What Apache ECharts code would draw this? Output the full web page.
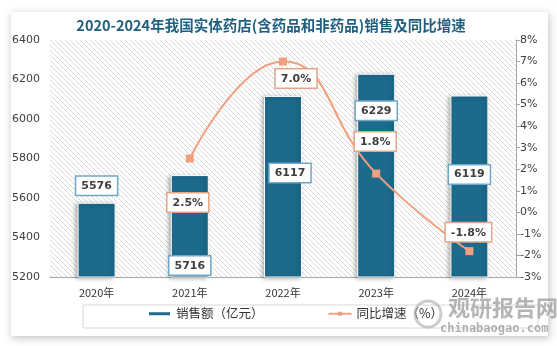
<!DOCTYPE html>
<html><head><meta charset="utf-8">
<script src="https://cdn.jsdelivr.net/npm/echarts@6/dist/echarts.min.js"></script>
<style>html,body{margin:0;padding:0;background:#fff;}#c{width:557px;height:346px;}</style>
</head><body><div id="c"></div>
<script>
const categories = ['2020年','2021年','2022年','2023年','2024年'];
const sales = [5576, 5716, 6117, 6229, 6119];
const growth = [null, 2.5, 7.0, 1.8, -1.8];
const growthLabels = ['', '2.5%', '7.0%', '1.8%', '-1.8%'];

const pc = document.createElement('canvas');
pc.width = 5; pc.height = 5;
const px = pc.getContext('2d');
px.fillStyle = '#ffffff'; px.fillRect(0,0,5,5);
px.strokeStyle = '#d9d9d9'; px.lineWidth = 1;
px.beginPath(); px.moveTo(-1,-1); px.lineTo(6,6); px.stroke();
px.beginPath(); px.moveTo(-1,4); px.lineTo(1,6); px.stroke();
px.beginPath(); px.moveTo(4,-1); px.lineTo(6,1); px.stroke();

const barLabelCfg = [
  {position:'top', distance:8},
  {position:'insideBottom', distance:3},
  {position:'insideTop', distance:68, offset:[7,0]},
  {position:'insideTop', distance:28},
  {position:'inside', offset:[0,-12]}
];
const lineLabelCfg = [
  null,
  {position:'bottom', distance:31, offset:[-2,0]},
  {position:'bottom', distance:4, offset:[13,0]},
  {position:'top', distance:19, offset:[-1,0]},
  {position:'top', distance:6, offset:[-1,0]}
];

const chart = echarts.init(document.getElementById('c'));
const boxLabel = (border) => ({
  show:true, color:'#404040', fontSize:11, fontWeight:'bold',
  fontFamily:'DejaVu Sans', backgroundColor:'#fff', borderColor:border,
  borderWidth:1.5, padding:[4,5,3,5]
});
chart.setOption({
  animation:false,
  backgroundColor:'#fff',
  graphic:[
    {type:'rect', shape:{x:11,y:12,width:537,height:324}, style:{fill:'#fff', shadowBlur:8, shadowColor:'rgba(0,0,0,0.25)', shadowOffsetX:1, shadowOffsetY:2}, z:-10},
    {type:'rect', shape:{x:83,y:305,width:455,height:23}, style:{fill:'none', stroke:'#d9d9d9', lineWidth:1}, z:-5},
    {type:'text', left:448, top:297, style:{text:'观研报告网', fill:'rgba(150,150,150,0.7)', font:'bold 22px "Noto Sans CJK SC"'}, z:50},
    {type:'text', left:440, top:323, style:{text:'chinabaogao.com', fill:'rgba(150,150,150,0.75)', font:'bold 12px "DejaVu Sans Mono"'}, z:50},
    {type:'circle', shape:{cx:428, cy:314, r:13}, style:{fill:'none', stroke:'rgba(170,170,170,0.6)', lineWidth:3}, z:50}
  ],
  title:{
    text:'2020-2024年我国实体药店(含药品和非药品)销售及同比增速',
    left:266, textAlign:'center', top:13,
    textStyle:{color:'#1f5f7f', fontSize:14.5, fontWeight:'bold', fontFamily:'"Noto Sans CJK SC"'}
  },
  grid:{left:50, right:41, top:40, bottom:69, show:true, borderWidth:0,
        backgroundColor:{image:pc, repeat:'repeat'}},
  legend:{
    bottom:21, left:142,
    itemGap:64,
    textStyle:{color:'#333', fontSize:12.5, fontFamily:'"Noto Sans CJK SC"'},
    data:[
      {name:'销售额（亿元）', icon:'rect', itemStyle:{color:'#1c6a8c'}},
      {name:'同比增速（%）'}
    ],
    itemWidth:23, itemHeight:5
  },
  xAxis:{
    type:'category', data:categories,
    axisLine:{onZero:false, lineStyle:{color:'#a6a6a6'}},
    axisTick:{show:false},
    axisLabel:{color:'#333', fontSize:11, margin:10, fontFamily:'"Noto Sans CJK SC"'}
  },
  yAxis:[
    {type:'value', min:5200, max:6400, interval:200,
     splitLine:{show:false}, axisLine:{show:false}, axisTick:{show:false},
     axisLabel:{color:'#404040', fontSize:11, margin:10, formatter:(v)=>String(v), fontFamily:'DejaVu Sans'}},
    {type:'value', min:-3, max:8, interval:1, position:'right',
     splitLine:{show:false},
     axisLine:{show:true, lineStyle:{color:'#a6a6a6'}},
     axisTick:{show:true, inside:false, length:4, lineStyle:{color:'#a6a6a6'}},
     axisLabel:{color:'#404040', fontSize:11, margin:4, formatter:'{value}%', fontFamily:'DejaVu Sans'}}
  ],
  series:[
    {
      name:'销售额（亿元）', type:'bar', barWidth:38, yAxisIndex:0,
      itemStyle:{color:'#1c6a8c', borderColor:'#fff', borderWidth:1, shadowBlur:4, shadowColor:'rgba(0,0,0,0.3)', shadowOffsetX:-2, shadowOffsetY:1},
      data: sales.map((v,i)=>({value:v, label:Object.assign(boxLabel('#6fa8c4'), barLabelCfg[i])})),
      z:2
    },
    {
      name:'同比增速（%）', type:'line', yAxisIndex:1, smooth:true,
      symbol:'rect', symbolSize:8,
      lineStyle:{color:'#f0a07e', width:2},
      itemStyle:{color:'#f0a07e'},
      data: growth.map((v,i)=>({value:v, label: lineLabelCfg[i] ? Object.assign(boxLabel('#e3a58a'), lineLabelCfg[i], {formatter:growthLabels[i]}) : {show:false}})),
      z:5
    }
  ]
});
</script></body></html>
